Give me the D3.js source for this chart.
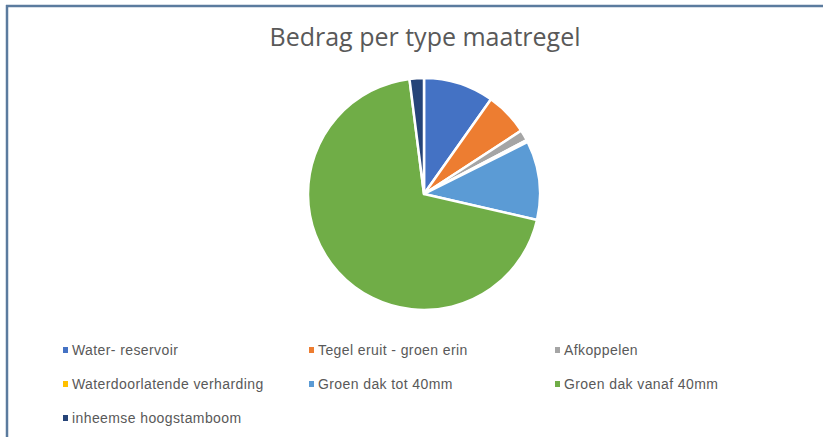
<!DOCTYPE html>
<html lang="nl">
<head>
    <meta charset="UTF-8"/>
    <title>Bedrag per type maatregel</title>
    <script src="https://d3js.org/d3.v7.min.js"></script>
    <style>
        body { margin: 0; background: #ffffff; }
    </style>
</head>
<body>
<script>
    var w = 823;
    var h = 437;

    var categories = ["Water- reservoir", "Tegel eruit - groen erin", "Afkoppelen",
        "Waterdoorlatende verharding", "Groen dak tot 40mm", "Groen dak vanaf 40mm",
        "inheemse hoogstamboom"];
    var values = [9.8, 6.0, 1.5, 0.3, 11.0, 69.4, 2.0];
    var colors = ["#4472C4", "#ED7D31", "#A5A5A5", "#FFC000", "#5B9BD5", "#70AD47", "#264478"];

    var dataset = categories.map(function(c, i) { return {name: c, value: values[i]}; });

    var color = d3.scaleOrdinal().domain(categories).range(colors);

    var svg = d3.select("body")
        .append("svg")
        .attr("width", w)
        .attr("height", h);

    svg.append("rect")
        .attr("width", w)
        .attr("height", h)
        .attr("fill", "#ffffff");

    // frame (only top and left edges visible)
    svg.append("line")
        .attr("x1", 6).attr("y1", 6).attr("x2", w).attr("y2", 6)
        .attr("stroke", "#5b7b9e").attr("stroke-width", 2.5);
    svg.append("line")
        .attr("x1", 7).attr("y1", 5).attr("x2", 7).attr("y2", h)
        .attr("stroke", "#5b7b9e").attr("stroke-width", 2.5);

    svg.append("text")
        .attr("x", 425)
        .attr("y", 46)
        .attr("text-anchor", "middle")
        .attr("fill", "#595959")
        .style("font-family", "'Open Sans', sans-serif")
        .style("font-size", "25px")
        .text("Bedrag per type maatregel");

    var pie = d3.pie()
        .sort(null)
        .value(function(d) { return d.value; });

    var arc = d3.arc()
        .innerRadius(0)
        .outerRadius(116);

    var g = svg.append("g")
        .attr("transform", "translate(424,194)");

    g.selectAll("path")
        .data(pie(dataset))
        .enter()
        .append("path")
        .attr("d", arc)
        .attr("fill", function(d) { return color(d.data.name); })
        .attr("stroke", "#ffffff")
        .attr("stroke-width", 2.5)
        .attr("stroke-linejoin", "round");

    // legend, 3 columns
    var colX = [63, 309, 555];
    var rowY = [350, 384, 418];

    var legend = svg.selectAll(".legend")
        .data(dataset)
        .enter()
        .append("g")
        .attr("class", "legend")
        .attr("transform", function(d, i) {
            return "translate(" + colX[i % 3] + "," + rowY[Math.floor(i / 3)] + ")";
        });

    legend.append("rect")
        .attr("x", 0)
        .attr("y", -3)
        .attr("width", 5)
        .attr("height", 6)
        .attr("fill", function(d) { return color(d.name); });

    legend.append("text")
        .attr("x", 9)
        .attr("y", 5)
        .attr("fill", "#595959")
        .style("font-family", "'Liberation Sans', sans-serif")
        .style("font-size", "14px")
        .style("letter-spacing", "0.4px")
        .text(function(d) { return d.name; });
</script>
</body>
</html>
